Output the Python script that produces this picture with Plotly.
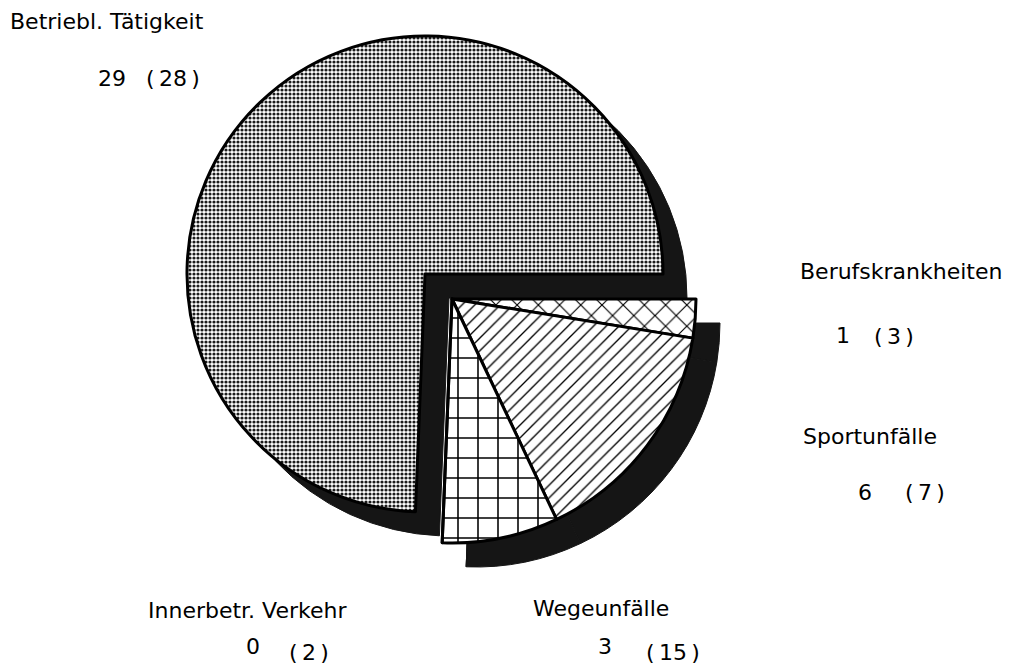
import plotly.graph_objects as go

# ---- data ----
categories = ["Berufskrankheiten", "Sportunfälle", "Wegeunfälle", "Innerbetr. Verkehr", "Betriebl. Tätigkeit"]
values_current = [1, 6, 3, 0, 29]
values_previous = [3, 7, 15, 2, 28]

W, H = 1014, 668

def dom(cx, cy, r):
    return dict(x=[(cx - r) / W, (cx + r) / W],
                y=[(H - cy - r) / H, (H - cy + r) / H])

BIG = (417, 266, 238)
SMALL = (444, 291, 244)
SH = 24  # shadow offset px

T = "rgba(0,0,0,0)"
is_big = [c == "Betriebl. Tätigkeit" for c in categories]

fig = go.Figure()

common = dict(labels=categories, values=values_current, sort=False,
              direction="clockwise", rotation=90, textinfo="none",
              hoverinfo="skip", showlegend=False)

SHC = "#151515"
fig.add_trace(go.Pie(**common, domain=dom(BIG[0] + SH, BIG[1] + SH, BIG[2]),
                     marker=dict(colors=[SHC if b else T for b in is_big],
                                 line=dict(color=[SHC if b else T for b in is_big], width=1))))
fig.add_trace(go.Pie(**common, domain=dom(SMALL[0] + SH, SMALL[1] + SH, SMALL[2]),
                     marker=dict(colors=[T if b else SHC for b in is_big],
                                 line=dict(color=[T if b else SHC for b in is_big], width=1))))
fig.add_trace(go.Pie(**common, domain=dom(*BIG),
                     marker=dict(colors=["white" if b else T for b in is_big],
                                 line=dict(color="black", width=[3 if b else 0 for b in is_big]),
                                 pattern=dict(shape=["." if b else "" for b in is_big],
                                              fgcolor="#1a1a1a", bgcolor="white",
                                              size=4, solidity=0.5))))
shapes_small = {"Berufskrankheiten": "x", "Sportunfälle": "/", "Wegeunfälle": "+",
                "Innerbetr. Verkehr": "", "Betriebl. Tätigkeit": ""}
sizes_small = {"Berufskrankheiten": 15, "Sportunfälle": 9, "Wegeunfälle": 20,
               "Innerbetr. Verkehr": 8, "Betriebl. Tätigkeit": 8}
fig.add_trace(go.Pie(**common, domain=dom(*SMALL),
                     marker=dict(colors=[T if b else "white" for b in is_big],
                                 line=dict(color="black", width=[0 if b else 3 for b in is_big]),
                                 pattern=dict(shape=[shapes_small[c] for c in categories],
                                              size=[sizes_small[c] for c in categories],
                                              fgcolor="black", bgcolor="white",
                                              solidity=0.15))))

FONT = dict(family="DejaVu Sans, sans-serif", size=22, color="black")
# label x, label y, value x, value y, previous x, previous y  (pixels)
label_pos = {
    "Betriebl. Tätigkeit": (0, 13, 88, 70, 136, 70),
    "Berufskrankheiten": (790, 263, 826, 327, 864, 328),
    "Sportunfälle": (793, 428, 848, 484, 895, 484),
    "Innerbetr. Verkehr": (138, 602, 236, 638, 279, 644),
    "Wegeunfälle": (523, 600, 588, 638, 636, 644),
}
TS = "\u2009"
ann = []
for c, v, p in zip(categories, values_current, values_previous):
    lx, ly, nx, ny, px, py = label_pos[c]
    ann.append(dict(x=lx / W, y=1 - ly / H, xref="paper", yref="paper", text=c,
                    showarrow=False, xanchor="left", yanchor="middle", font=FONT))
    ann.append(dict(x=nx / W, y=1 - ny / H, xref="paper", yref="paper", text=str(v),
                    showarrow=False, xanchor="left", yanchor="middle", font=FONT))
    ann.append(dict(x=px / W, y=1 - py / H, xref="paper", yref="paper",
                    text="(" + TS + str(p) + TS + ")",
                    showarrow=False, xanchor="left", yanchor="middle", font=FONT))

fig.update_layout(width=W, height=H, margin=dict(l=0, r=0, t=0, b=0),
                  paper_bgcolor="white", plot_bgcolor="white", annotations=ann)
fig.write_html("out.html")
